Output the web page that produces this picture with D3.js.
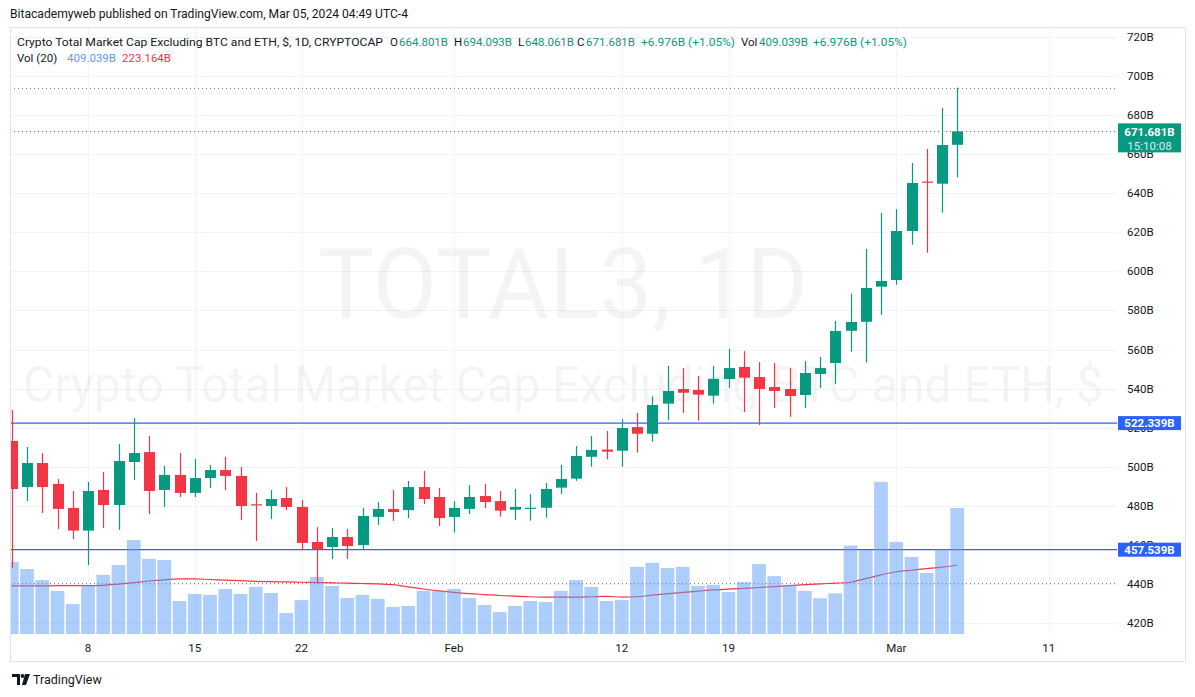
<!DOCTYPE html>
<html><head><meta charset="utf-8">
<script src="https://cdn.jsdelivr.net/npm/d3@7/dist/d3.min.js"></script>
<style>
body{margin:0;background:#fff;}
svg{display:block;font-family:Roboto,"Liberation Sans",Arial,sans-serif;}
</style>
</head><body>
<svg id="c" width="1195" height="697"></svg>
<script>
// ---------- DATA ----------
const startDate = "2024-01-03";
const endDate = "2024-03-05";
const openVals  = [513.2,489.6,501.9,491.2,478.9,467.3,488.1,480.4,502.4,507.5,488.1,495.8,486.6,494.2,498.3,495.3,480.8,479.9,484.0,479.4,461.5,458.9,464.0,459.9,474.3,478.4,477.8,489.6,484.5,474.3,478.4,485.0,482.4,478.0,478.5,479.0,489.3,493.9,505.1,508.8,508.2,520.3,516.9,532.3,539.8,539.3,536.4,544.9,551.1,545.9,540.8,539.8,536.7,547.5,553.1,569.6,574.2,592.2,595.6,620.7,646.0,644.9,664.801];
const highVals  = [529.0,510.1,507.0,493.7,487.6,492.2,497.3,511.6,524.9,515.7,500.4,507.0,504.0,500.9,505.0,499.9,486.6,488.1,489.6,483.0,469.1,468.6,468.1,478.9,481.9,488.1,492.7,497.8,489.1,482.4,490.6,491.2,487.6,488.6,486.0,491.7,500.9,510.6,515.7,518.3,524.4,527.6,536.0,551.6,550.5,546.5,551.6,560.3,559.2,553.6,553.1,550.5,554.1,556.2,574.6,588.6,611.5,629.9,631.9,655.5,662.7,683.7,694.093];
const lowVals   = [448.2,482.4,476.3,468.2,463.0,449.7,468.6,467.7,493.2,475.8,479.4,484.5,484.5,489.1,488.1,472.7,462.0,473.2,477.8,457.4,440.4,452.8,452.8,457.4,470.2,472.2,473.7,480.9,469.6,466.3,475.8,478.9,474.4,472.7,472.4,473.9,486.0,492.8,500.0,503.8,500.0,507.2,512.8,523.9,527.6,523.6,532.3,540.3,528.0,521.4,530.1,525.5,530.1,540.3,542.3,558.9,553.3,577.8,593.2,613.7,609.6,630.1,648.061];
const closeVals = [488.6,501.9,489.6,478.4,467.3,487.6,480.4,502.9,507.0,487.6,495.8,486.6,494.2,498.3,495.3,479.9,480.2,483.5,479.4,461.0,457.9,464.0,459.4,474.8,478.4,476.8,489.6,483.5,473.7,478.9,484.5,481.9,477.5,479.4,479.0,488.6,493.7,505.5,508.6,507.7,519.8,516.9,531.6,538.8,537.9,536.9,545.0,550.5,545.6,539.8,538.8,536.2,548.0,550.5,569.5,574.1,591.5,595.1,620.7,645.3,645.5,664.7,671.681];
const volumeVals = [234,211,175,140,97,158,192,224,305,244,240,107,130,127,146,130,153,133,68,110,185,156,117,127,114,88,91,140,140,146,117,94,71,91,107,104,140,175,153,107,110,218,231,214,218,156,159,136,169,227,188,159,140,116,132,286,273,494,299,250,198,275,409.039];
const volumeMA = [156,156,156,157,157,157,158,162,167,172,176,179,179,177,175,173,171,170,169,168,167,166,165,164,163,160,153,146,140,135,131,128,125,123,121,120,120,120,121,122,120,121,126,131,135,139,143,146,148,151,154,157,160,163,165,168,180,192,202,207,212,217,223.164];
const priceTicks = [420,440,460,480,500,520,540,560,580,600,620,640,660,680,700,720];
const timeTicks = [["2024-01-08","8"],["2024-01-15","15"],["2024-01-22","22"],["2024-02-01","Feb"],["2024-02-12","12"],["2024-02-19","19"],["2024-03-01","Mar"],["2024-03-11","11"]];
const levels = [522.339, 457.539];
const lastPrice = 671.681;
const headerText = "Bitacademyweb published on TradingView.com, Mar 05, 2024 04:49 UTC-4";
const titleText = "Crypto Total Market Cap Excluding BTC and ETH, $, 1D, CRYPTOCAP";
const legendParts = [["O","664.801B"],["H","694.093B"],["L","648.061B"],["C","671.681B"],["","+6.976B (+1.05%)"],["Vol","409.039B"],["","+6.976B (+1.05%)"]];
const volLegend = ["Vol (20)", "409.039B", "223.164B"];

// ---------- SETUP ----------
const GREEN = "#089981", RED = "#f23645", BLUE = "#2962ff", TXT = "#131722", GRID = "#f0f3fa";
const L = 10, R = 1117, T = 27, B = 634, FR = 1185, FB = 661;
const parse = d3.utcParse("%Y-%m-%d");
const dates = d3.utcDay.range(parse(startDate), d3.utcDay.offset(parse(endDate), 1));
const data = dates.map((d, i) => ({d, o: openVals[i], h: highVals[i], l: lowVals[i], c: closeVals[i], v: volumeVals[i], ma: volumeMA[i]}));

const x = d3.scaleUtc().domain([dates[0], dates[dates.length - 1]]).range([11.75, 957.25]);
const y = d3.scaleLinear().domain([420, 720]).range([623, 37]);
const yv = d3.scaleLinear().domain([0, 409.039]).range([B, 508]);

const svg = d3.select("#c");
svg.append("rect").attr("width", 1195).attr("height", 697).attr("fill", "#fff");
svg.append("defs").append("clipPath").attr("id", "plot")
  .append("rect").attr("x", L).attr("y", T).attr("width", R - L).attr("height", B - T);

// grid
const grid = svg.append("g");
grid.selectAll(".hg").data(priceTicks).join("line")
  .attr("x1", L).attr("x2", R).attr("y1", d => Math.round(y(d)) + 0.5).attr("y2", d => Math.round(y(d)) + 0.5)
  .attr("stroke", GRID).attr("stroke-width", 1);
grid.selectAll(".vg").data(timeTicks).join("line")
  .attr("x1", d => Math.round(x(parse(d[0]))) + 0.5).attr("x2", d => Math.round(x(parse(d[0]))) + 0.5)
  .attr("y1", T).attr("y2", B).attr("stroke", GRID).attr("stroke-width", 1);

// watermark
svg.append("text").attr("x", 563).attr("y", 318).attr("text-anchor", "middle")
  .attr("font-size", 98).attr("fill", "rgba(0,0,0,0.045)").attr("textLength", 490).attr("lengthAdjust", "spacingAndGlyphs")
  .text("TOTAL3, 1D");
svg.append("text").attr("x", 563).attr("y", 402).attr("text-anchor", "middle")
  .attr("font-size", 50).attr("fill", "rgba(0,0,0,0.045)").attr("textLength", 1080).attr("lengthAdjust", "spacingAndGlyphs")
  .text("Crypto Total Market Cap Excluding BTC and ETH, $");

const plot = svg.append("g").attr("clip-path", "url(#plot)");

// dotted lines: high, low, last price
const hi = d3.max(highVals), lo = d3.min(lowVals);
[[hi, "#787b86"], [lo, "#787b86"], [lastPrice, GREEN]].forEach(([p, col]) => {
  plot.append("line").attr("x1", L).attr("x2", R)
    .attr("y1", Math.round(y(p)) + 0.5).attr("y2", Math.round(y(p)) + 0.5)
    .attr("stroke", col).attr("stroke-width", 1).attr("stroke-dasharray", "1,3");
});

// level lines
plot.selectAll(".lvl").data(levels).join("line")
  .attr("x1", L).attr("x2", R).attr("y1", d => y(d)).attr("y2", d => y(d))
  .attr("stroke", BLUE).attr("stroke-width", 1.3);

// volume MA
plot.append("path").datum(data)
  .attr("d", d3.line().x(d => x(d.d)).y(d => yv(d.ma)).curve(d3.curveMonotoneX))
  .attr("fill", "none").attr("stroke", RED).attr("stroke-width", 1.2);

// volume bars
const vw = 13.7;
plot.selectAll(".vol").data(data).join("rect")
  .attr("x", d => x(d.d) - vw / 2).attr("width", vw)
  .attr("y", d => yv(d.v)).attr("height", d => B - yv(d.v))
  .attr("fill", "#5b9cf6").attr("fill-opacity", 0.5);

// candles
const cw = 11;
const cg = plot.selectAll(".cdl").data(data).join("g");
cg.append("line")
  .attr("x1", d => Math.round(x(d.d)) + 0.5).attr("x2", d => Math.round(x(d.d)) + 0.5)
  .attr("y1", d => y(d.h)).attr("y2", d => y(d.l))
  .attr("stroke", d => d.c >= d.o ? GREEN : RED).attr("stroke-width", 1.2);
cg.append("rect")
  .attr("x", d => Math.round(x(d.d)) + 0.5 - cw / 2).attr("width", cw)
  .attr("y", d => y(Math.max(d.o, d.c)))
  .attr("height", d => Math.max(1.2, Math.abs(y(d.o) - y(d.c))))
  .attr("fill", d => d.c >= d.o ? GREEN : RED);

// frame
svg.append("rect").attr("x", L + 0.5).attr("y", T + 0.5).attr("width", FR - L).attr("height", FB - T)
  .attr("fill", "none").attr("stroke", "#e0e3eb");

// price axis labels
svg.append("g").selectAll("text").data(priceTicks).join("text")
  .attr("x", 1127).attr("y", d => y(d)).attr("dy", "0.35em")
  .attr("font-size", 11.5).attr("fill", TXT).text(d => d + "B");

// level label boxes
levels.forEach(p => {
  svg.append("rect").attr("x", 1118).attr("y", y(p) - 7).attr("width", 63).attr("height", 14).attr("fill", BLUE);
  svg.append("text").attr("x", 1149.5).attr("y", y(p)).attr("dy", "0.36em").attr("text-anchor", "middle")
    .attr("font-size", 11.5).attr("font-weight", "bold").attr("fill", "#fff").text(d3.format(".3f")(p) + "B");
});
svg.append("rect").attr("x", 1118).attr("y", y(lastPrice) - 8).attr("width", 63).attr("height", 29).attr("fill", GREEN);
svg.append("text").attr("x", 1149.5).attr("y", y(lastPrice)).attr("dy", "0.36em").attr("text-anchor", "middle")
  .attr("font-size", 11.5).attr("font-weight", "bold").attr("fill", "#fff").text(d3.format(".3f")(lastPrice) + "B");
svg.append("text").attr("x", 1149.5).attr("y", y(lastPrice) + 14).attr("dy", "0.36em").attr("text-anchor", "middle")
  .attr("font-size", 11.5).attr("fill", "rgba(255,255,255,0.85)").text("15:10:08");

// time axis labels
svg.append("g").selectAll("text").data(timeTicks).join("text")
  .attr("x", d => x(parse(d[0]))).attr("y", 652).attr("text-anchor", "middle")
  .attr("font-size", 11.5).attr("fill", TXT).text(d => d[1]);

// header
svg.append("text").attr("x", 10).attr("y", 18).attr("font-size", 12).attr("fill", TXT)
  .attr("textLength", 398).attr("lengthAdjust", "spacingAndGlyphs").text(headerText);
svg.append("text").attr("x", 17).attr("y", 46).attr("font-size", 11.5).attr("fill", TXT)
  .attr("textLength", 366).attr("lengthAdjust", "spacingAndGlyphs").text(titleText);
const labelX = [390, 454, 518, 577, 641, 741, 813];
const valX   = [399, 463, 525, 586, 641, 759, 813];
const valW   = [49, 49, 49, 49, 94, 49, 94];
legendParts.forEach(([lab, val], i) => {
  if (lab) svg.append("text").attr("x", labelX[i]).attr("y", 46).attr("font-size", 11.5).attr("fill", TXT).text(lab);
  svg.append("text").attr("x", valX[i]).attr("y", 46).attr("font-size", 11.5).attr("fill", GREEN)
    .attr("textLength", valW[i]).attr("lengthAdjust", "spacingAndGlyphs").text(val);
});
svg.append("text").attr("x", 17).attr("y", 62).attr("font-size", 11.5).attr("fill", TXT).text(volLegend[0]);
svg.append("text").attr("x", 67).attr("y", 62).attr("font-size", 11.5).attr("fill", "#5b9cf6")
  .attr("textLength", 49).attr("lengthAdjust", "spacingAndGlyphs").text(volLegend[1]);
svg.append("text").attr("x", 122).attr("y", 62).attr("font-size", 11.5).attr("fill", RED)
  .attr("textLength", 49).attr("lengthAdjust", "spacingAndGlyphs").text(volLegend[2]);

// TradingView logo
const lg = svg.append("g").attr("fill", TXT);
lg.append("path").attr("d", "M12,674 H20 V685 H17 V677 H12 Z");
lg.append("circle").attr("cx", 22.5).attr("cy", 676).attr("r", 1.9);
lg.append("path").attr("d", "M25,674 H30 L26,685 H22 Z");
svg.append("text").attr("x", 33).attr("y", 684).attr("font-size", 12.5).attr("fill", TXT).text("TradingView");
</script>
</body></html>
